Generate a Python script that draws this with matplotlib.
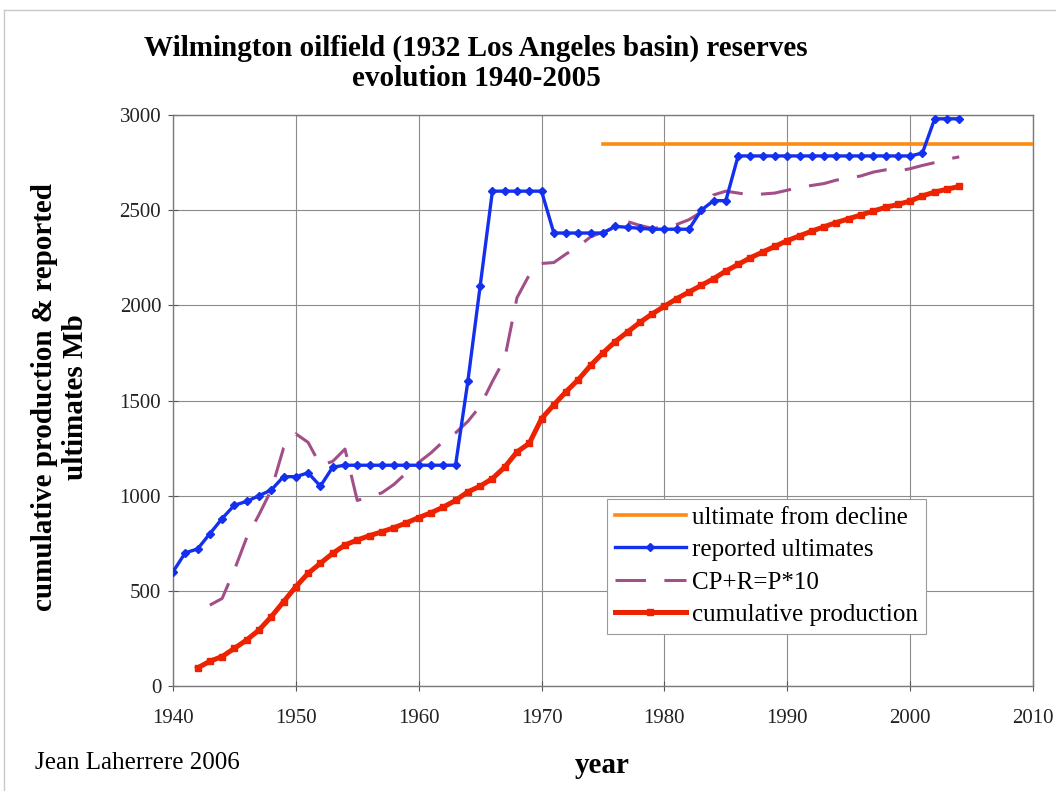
import matplotlib.pyplot as plt
from matplotlib.lines import Line2D

# ────────────────────────────────────────────────
#  DATA
# ────────────────────────────────────────────────

reported_years = list(range(1940, 2005))
reported_ultimates = [
    600, 700, 720, 800, 880, 950, 970, 1000, 1030, 1100,      # 1940-1949
    1100, 1120, 1050, 1150, 1160, 1160, 1160, 1160, 1160, 1160,  # 1950-1959
    1160, 1160, 1160, 1160, 1600, 2100, 2600, 2600, 2600, 2600,  # 1960-1969
    2600, 2380, 2380, 2380, 2380, 2380, 2415, 2410, 2405, 2400,  # 1970-1979
    2400, 2400, 2400, 2500, 2550, 2550, 2785, 2785, 2785, 2785,  # 1980-1989
    2785, 2785, 2785, 2785, 2785, 2785, 2785, 2785, 2785, 2785,  # 1990-1999
    2785, 2800, 2980, 2980, 2980,                                # 2000-2004
]

cp_years = list(range(1942, 2005))
cumulative_production = [
    95, 130, 155, 198, 242, 294, 364, 443,                       # 1942-1949
    522, 592, 645, 697, 741, 767, 790, 810, 832, 857,            # 1950-1959
    885, 910, 940, 975, 1020, 1050, 1090, 1150, 1230, 1275,      # 1960-1969
    1405, 1477, 1547, 1610, 1685, 1750, 1810, 1860, 1910, 1955,  # 1970-1979
    1995, 2035, 2070, 2105, 2140, 2180, 2215, 2250, 2280, 2310,  # 1980-1989
    2340, 2365, 2390, 2413, 2435, 2455, 2475, 2495, 2515, 2530,  # 1990-1999
    2548, 2575, 2595, 2610, 2625,                                # 2000-2004
]

pr_years = list(range(1943, 2005))
cp_plus_r = [
    425, 460, 610, 780, 900, 1030, 1250,                         # 1943-1949
    1325, 1280, 1160, 1180, 1245, 975, 995, 1015, 1060, 1120,    # 1950-1959
    1175, 1225, 1285, 1330, 1390, 1470, 1600, 1720, 2040, 2160,  # 1960-1969
    2220, 2225, 2270, 2310, 2360, 2385, 2410, 2440, 2420, 2405,  # 1970-1979
    2410, 2425, 2450, 2490, 2580, 2600, 2590, 2580, 2585, 2590,  # 1980-1989
    2605, 2620, 2630, 2640, 2658, 2668, 2680, 2700, 2712, 2705,  # 1990-1999
    2718, 2735, 2750, 2768, 2780,                                # 2000-2004
]

decline_years = [1975, 2010]
decline_ultimate = [2850, 2850]

legend_labels = ["ultimate from decline", "reported ultimates",
                 "CP+R=P*10", "cumulative production"]

# ────────────────────────────────────────────────
#  STYLE
# ────────────────────────────────────────────────

plt.rcParams['font.family'] = ['Liberation Serif', 'DejaVu Serif']

ORANGE = "#FF8A10"
BLUE = "#1230EE"
PLUM = "#A24E88"
RED = "#EC2200"
GRID = "#8C8C8C"

fig = plt.figure(figsize=(10.56, 7.91), dpi=100)
ax = fig.add_axes([0.1638, 0.1327, 0.8144, 0.7219])

ax.plot(decline_years, decline_ultimate, color=ORANGE, lw=2.6, zorder=3)
ax.plot(reported_years, reported_ultimates, color=BLUE, lw=2.4,
        marker="D", ms=4.5, zorder=5)
ax.plot(pr_years, cp_plus_r, color=PLUM, lw=2.2, dashes=(10, 6), zorder=4)
ax.plot(cp_years, cumulative_production, color=RED, lw=3.6,
        marker="s", ms=4.5, zorder=4)

ax.set_xlim(1940, 2010)
ax.set_ylim(0, 3000)
ax.set_xticks(range(1940, 2011, 10))
ax.set_yticks(range(0, 3001, 500))
ax.grid(True, color=GRID, lw=0.8)
ax.set_axisbelow(True)
for s in ax.spines.values():
    s.set_color("#7a7a7a")
    s.set_linewidth(1.0)
ax.tick_params(axis="both", labelsize=15, colors="#555555",
               labelcolor="#222222", length=7, width=0.8, direction="inout")
ax.tick_params(axis="x", pad=13)
ax.tick_params(axis="y", pad=5)

# legend
handles = [
    Line2D([], [], color=ORANGE, lw=2.6),
    Line2D([], [], color=BLUE, lw=2.4, marker="D", ms=4.5),
    Line2D([], [], color=PLUM, lw=2.2, dashes=(10, 6)),
    Line2D([], [], color=RED, lw=3.6, marker="s", ms=4.5),
]
leg = ax.legend(handles, legend_labels, loc="lower left",
                bbox_to_anchor=(0.505, 0.092), fontsize=18,
                frameon=True, fancybox=False, framealpha=1,
                handlelength=2.85, handletextpad=0.25, labelspacing=0.4,
                borderpad=0.3, borderaxespad=0)
leg.get_frame().set_edgecolor("#9a9a9a")
leg.get_frame().set_linewidth(0.8)

# texts
fig.text(0.451, 0.920, "Wilmington oilfield (1932 Los Angeles basin) reserves\nevolution 1940-2005",
         ha="center", va="center", fontsize=21, fontweight="bold",
         linespacing=1.15)
fig.text(0.057, 0.4975, "cumulative production & reported\nultimates Mb",
         ha="center", va="center", rotation=90, fontsize=21,
         fontweight="bold", linespacing=1.2)
fig.text(0.570, 0.032, "year", ha="center", va="center",
         fontsize=21, fontweight="bold")
fig.text(0.033, 0.036, "Jean Laherrere 2006", ha="left", va="center",
         fontsize=18)

# outer chart border (top and left visible)
fig.add_artist(Line2D([0.004, 1.0], [0.987, 0.987], transform=fig.transFigure,
                      color="#c8c8c8", lw=1.0))
fig.add_artist(Line2D([0.004, 0.004], [0.0, 0.987], transform=fig.transFigure,
                      color="#c8c8c8", lw=1.0))

fig.savefig("out.png", dpi=100)
